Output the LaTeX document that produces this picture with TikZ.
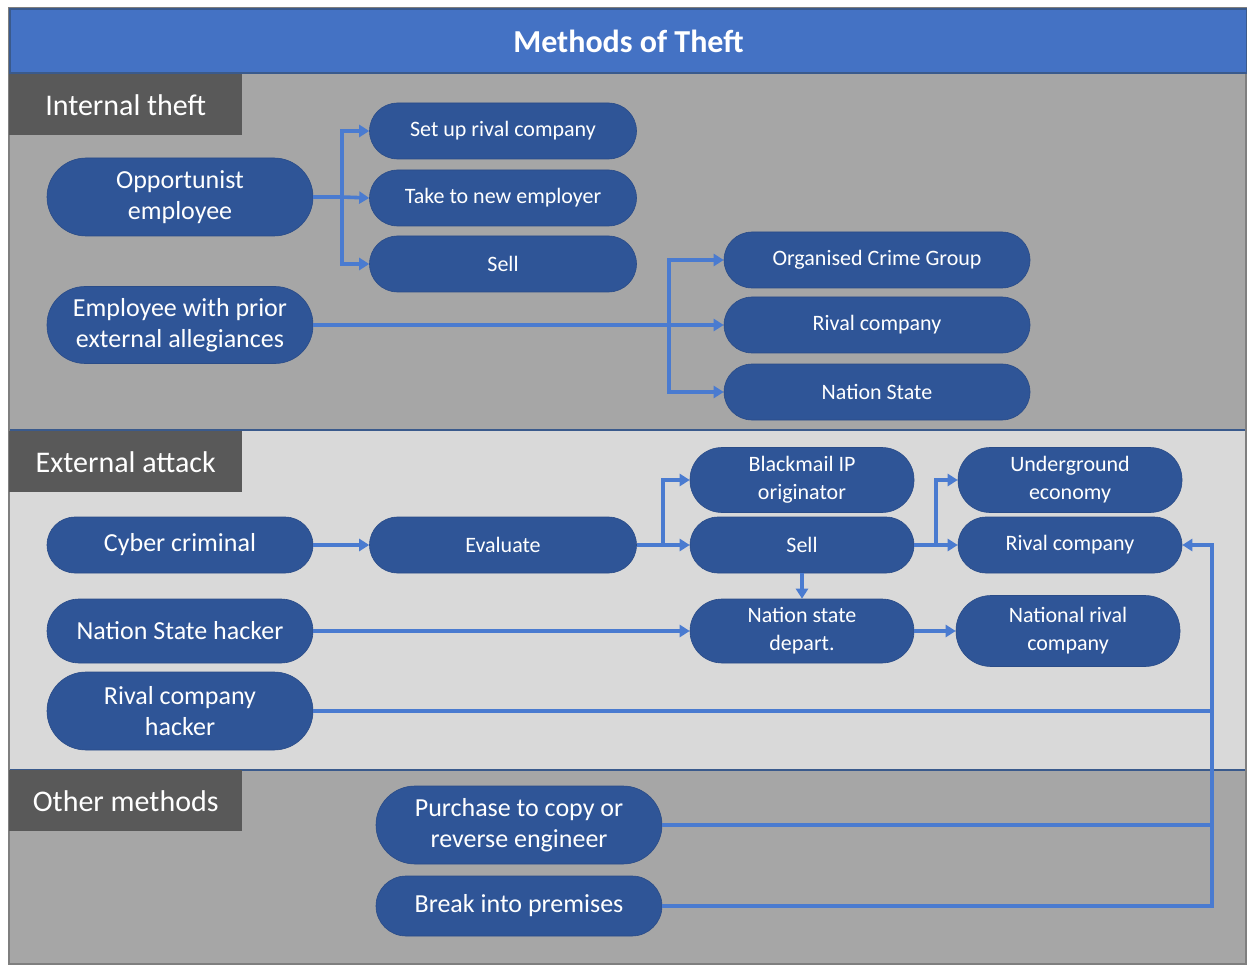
\documentclass[tikz,border=0pt]{standalone}
\usepackage{fontspec}
\setmainfont{Carlito}
\usetikzlibrary{arrows.meta}
\definecolor{titleblue}{HTML}{4472C4}
\definecolor{nodeblue}{HTML}{2F5597}
\definecolor{linkblue}{HTML}{4A7BD0}
\definecolor{labelgray}{HTML}{595959}
\definecolor{midgray}{HTML}{A6A6A6}
\definecolor{lightgray}{HTML}{D9D9D9}
\definecolor{framegray}{HTML}{7F7F7F}
\definecolor{sepblue}{HTML}{3A5A8C}
\tikzset{
  pill/.style={fill=nodeblue, draw=nodeblue!90!black, line width=0.6pt, text=white, align=center, inner sep=0pt},
  bigpill/.style={pill, font=\fontsize{26}{31}\selectfont},
  smallpill/.style={pill, font=\fontsize{22}{28}\selectfont},
  seclabel/.style={fill=labelgray, text=white, anchor=north west, minimum width=233pt, minimum height=61pt, inner sep=0pt, font=\fontsize{30}{34}\selectfont},
  conn/.style={draw=linkblue, line width=3.6pt},
  arr/.style={conn, -{Triangle[length=10pt,width=12pt]}},
}
\begin{document}
\begin{tikzpicture}[x=1pt,y=-1pt]
\useasboundingbox (0,0) rectangle (1247,965);
\fill[white] (0,0) rectangle (1247,965);
% sections
\fill[midgray] (9,72) rectangle (1246,430);
\fill[lightgray] (9,430) rectangle (1246,770);
\fill[midgray] (9,770) rectangle (1246,964);
\draw[sepblue, line width=1.5pt] (9,430) -- (1246,430);
\draw[sepblue, line width=1.5pt] (9,770) -- (1246,770);
\draw[framegray, line width=2.5pt] (9,8) rectangle (1246,964);
% title
\node[fill=titleblue, draw=sepblue, line width=2pt, anchor=north west, minimum width=1237pt, minimum height=64pt, inner sep=0pt, text=white, font=\fontsize{32}{36}\selectfont\bfseries] (title) at (9,8) {Methods of Theft};
% section labels
\node[seclabel] (lint) at (9,74) {Internal theft};
\node[seclabel] (lext) at (9,431) {External attack};
\node[seclabel] (loth) at (9,770) {Other methods};

% Internal theft
\node[bigpill, minimum width=266pt, minimum height=78pt, rounded corners=39pt] (opp) at (180,197) {Opportunist\\employee};
\node[smallpill, minimum width=267pt, minimum height=56pt, rounded corners=28pt] (setup) at (503,131) {Set up rival company};
\node[smallpill, minimum width=267pt, minimum height=56pt, rounded corners=28pt] (take) at (503,198) {Take to new employer};
\node[smallpill, minimum width=267pt, minimum height=56pt, rounded corners=28pt] (sellA) at (503,264) {Sell};
\node[bigpill, minimum width=266pt, minimum height=77pt, rounded corners=38pt] (prior) at (180,325) {Employee with prior\\external allegiances};
\node[smallpill, minimum width=306pt, minimum height=56pt, rounded corners=28pt] (ocg) at (877,260) {Organised Crime Group};
\node[smallpill, minimum width=306pt, minimum height=56pt, rounded corners=28pt] (rivalA) at (877,325) {Rival company};
\node[smallpill, minimum width=306pt, minimum height=56pt, rounded corners=28pt] (nation) at (877,392) {Nation State};

% External attack
\node[bigpill, minimum width=266pt, minimum height=56pt, rounded corners=28pt] (cyber) at (180,545) {Cyber criminal};
\node[smallpill, minimum width=267pt, minimum height=56pt, rounded corners=28pt] (eval) at (503,545) {Evaluate};
\node[smallpill, minimum width=224pt, minimum height=65pt, rounded corners=32pt] (black) at (802,480) {Blackmail IP\\originator};
\node[smallpill, minimum width=224pt, minimum height=56pt, rounded corners=28pt] (sellB) at (802,545) {Sell};
\node[smallpill, minimum width=224pt, minimum height=65pt, rounded corners=32pt] (under) at (1070,480) {Underground\\economy};
\node[smallpill, minimum width=224pt, minimum height=56pt, rounded corners=28pt] (rivalB) at (1070,545) {Rival company};
\node[bigpill, minimum width=266pt, minimum height=64pt, rounded corners=32pt] (nsh) at (180,631) {Nation State hacker};
\node[smallpill, minimum width=224pt, minimum height=64pt, rounded corners=32pt] (nsd) at (802,631) {Nation state\\depart.};
\node[smallpill, minimum width=224pt, minimum height=71pt, rounded corners=35pt] (natriv) at (1068,631) {National rival\\company};
\node[bigpill, minimum width=266pt, minimum height=78pt, rounded corners=39pt] (rch) at (180,711) {Rival company\\hacker};

% Other methods
\node[bigpill, minimum width=286pt, minimum height=78pt, rounded corners=39pt] (purch) at (519,825) {Purchase to copy or\\reverse engineer};
\node[bigpill, minimum width=286pt, minimum height=60pt, rounded corners=30pt] (brk) at (519,906) {Break into premises};

% junctions
\coordinate (j1) at (342,197);
\coordinate (j2) at (669,325);
\coordinate (j3) at (663,545);
\coordinate (j4) at (936,545);
\coordinate (j5) at (1212,711);
\coordinate (j6) at (1212,825);
\coordinate (j7) at (1212,906);
\coordinate (j8) at (1212,545);

% connectors: internal
\draw[conn] (opp.east) -- (j1);
\draw[arr] (j1) |- (setup.west);
\draw[arr] (j1) -- (take.west);
\draw[arr] (j1) |- (sellA.west);
\draw[arr] (prior.east) -- (rivalA.west);
\draw[arr] (j2) |- (ocg.west);
\draw[arr] (j2) |- (nation.west);

% connectors: external
\draw[arr] (cyber.east) -- (eval.west);
\draw[conn] (eval.east) -- (j3);
\draw[arr] (j3) |- (black.west);
\draw[arr] (j3) -- (sellB.west);
\draw[conn] (sellB.east) -- (j4);
\draw[arr] (j4) |- (under.west);
\draw[arr] (j4) -- (rivalB.west);
\draw[arr] (sellB.south) -- (nsd.north);
\draw[arr] (nsh.east) -- (nsd.west);
\draw[arr] (nsd.east) -- (natriv.west);

% connectors to rival company
\draw[conn] (rch.east) -- (j5);
\draw[conn] (purch.east) -- (j6);
\draw[arr] (brk.east) -- (j7) -- (j8) -- (rivalB.east);
\end{tikzpicture}
\end{document}
